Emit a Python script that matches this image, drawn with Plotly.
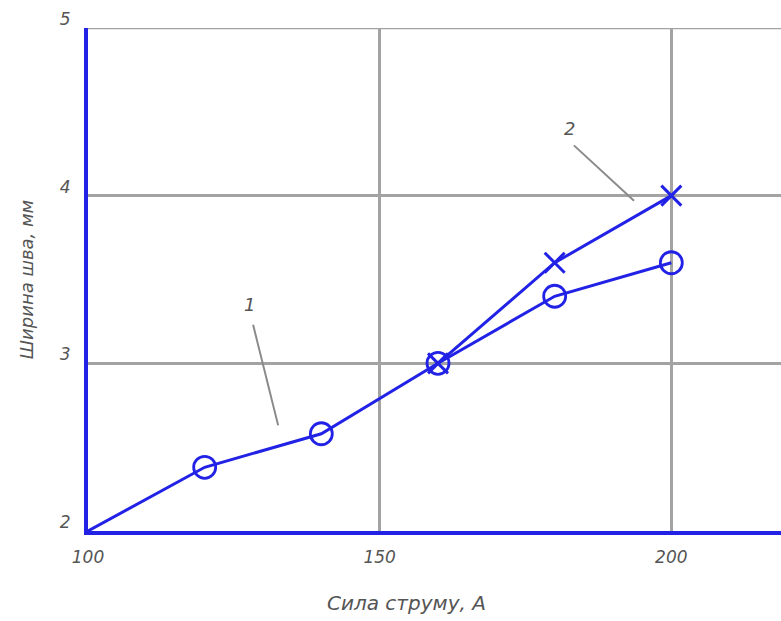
import plotly.graph_objects as go

# Сила струму, А
current_1 = [100, 120, 140, 160, 180, 200]
# Ширина шва, мм — крива 1
width_1 = [2.0, 2.38, 2.58, 3.0, 3.4, 3.6]

current_2 = [160, 180, 200]
# Ширина шва, мм — крива 2
width_2 = [3.0, 3.6, 4.0]

x_ticks = [100, 150, 200]
x_tick_text = ["100", "150", "200"]
y_ticks = [2, 3, 4, 5]

BLUE = "#2222e6"
GRID = "#a3a3a3"
TEXT = "#555555"
FONT = "DejaVu Sans"

fig = go.Figure()

# Curve 1: the line starts at the origin point, markers only on measured points
fig.add_trace(go.Scatter(
    x=current_1, y=width_1, mode="lines",
    line=dict(color=BLUE, width=3), showlegend=False,
))
fig.add_trace(go.Scatter(
    x=current_1[1:], y=width_1[1:], mode="markers",
    marker=dict(symbol="circle-open", size=22, color=BLUE, line=dict(width=2.8)),
    showlegend=False,
))
fig.add_trace(go.Scatter(
    x=current_2, y=width_2, mode="lines+markers",
    line=dict(color=BLUE, width=3),
    marker=dict(symbol="x-thin-open", size=20, color=BLUE, line=dict(width=3, color=BLUE)),
    showlegend=False,
))

# Top border of the grid
fig.add_shape(type="line", xref="paper", yref="y", x0=0, x1=1, y0=5, y1=5,
              line=dict(color=GRID, width=2.5), layer="below")

# Curve labels with leader lines
fig.add_annotation(x=127.6, y=3.35, text="<i>1</i>", showarrow=False,
                   xanchor="center", yanchor="middle",
                   font=dict(family=FONT, size=18, color=TEXT))
fig.add_shape(type="line", x0=128.3, y0=3.23, x1=132.6, y1=2.63,
              line=dict(color="#8a8a8a", width=2))
fig.add_annotation(x=182.6, y=4.4, text="<i>2</i>", showarrow=False,
                   xanchor="center", yanchor="middle",
                   font=dict(family=FONT, size=18, color=TEXT))
fig.add_shape(type="line", x0=183.3, y0=4.3, x1=193.6, y1=3.97,
              line=dict(color="#8a8a8a", width=2))

# Axis title for x, placed below the tick labels
fig.add_annotation(x=0.46, xref="paper", y=-0.143, yref="paper",
                   text="Сила струму, А", showarrow=False,
                   xanchor="center", yanchor="middle",
                   font=dict(family=FONT, size=20, color=TEXT, style="italic"))

fig.update_layout(
    width=781, height=621,
    margin=dict(l=88, r=0, t=28, b=90),
    paper_bgcolor="white", plot_bgcolor="white",
    xaxis=dict(
        range=[100, 218.8], tickvals=x_ticks, ticktext=x_tick_text,
        showgrid=True, gridcolor=GRID, gridwidth=2.5,
        showline=True, linecolor=BLUE, linewidth=4,
        zeroline=False, ticks="",
        tickfont=dict(family=FONT, size=17, color=TEXT, style="italic"),
        ticklabelstandoff=8,
    ),
    yaxis=dict(
        range=[2, 5], tickvals=y_ticks,
        showgrid=True, gridcolor=GRID, gridwidth=2.5,
        showline=True, linecolor=BLUE, linewidth=4,
        zeroline=False, ticks="",
        tickfont=dict(family=FONT, size=17, color=TEXT, style="italic"),
        ticklabelstandoff=10, ticklabelshift=-9,
        title=dict(text="Ширина шва, мм",
                   font=dict(family=FONT, size=18, color=TEXT, style="italic"),
                   standoff=22),
    ),
)

fig.write_html("out.html")
